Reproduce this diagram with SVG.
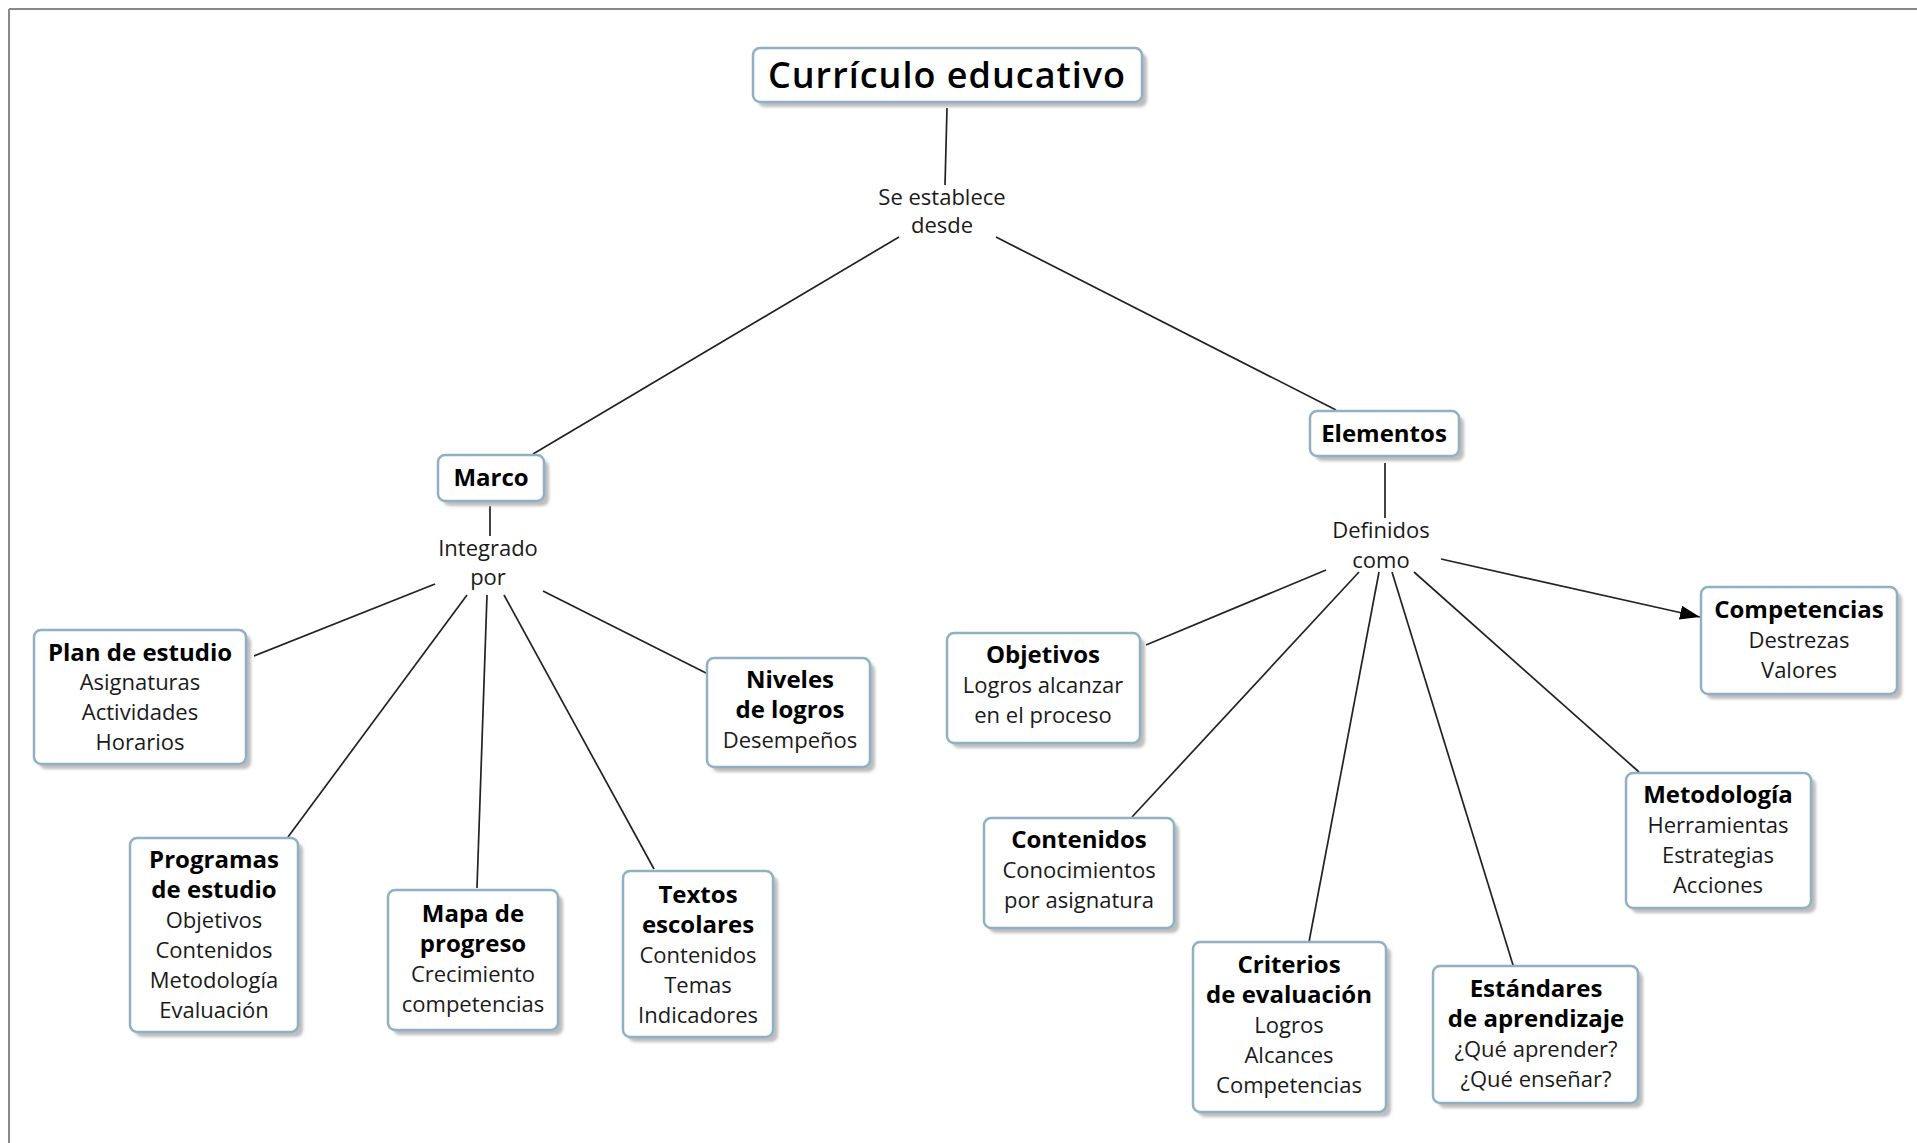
<svg xmlns="http://www.w3.org/2000/svg" width="1917" height="1143" viewBox="0 0 1917 1143">
<style>
  .box { fill: #ffffff; stroke: #8fb1c5; stroke-width: 2.5; }
  .sh { fill: #bdbdbd; filter: url(#blur); }
  .t { font-family: "Open Sans", "Liberation Sans", sans-serif; font-size: 22px; fill: #1a1a1a; text-anchor: middle; }
  .b { font-weight: 700; font-size: 24px; fill: #000; }
  .title { font-family: "Open Sans", "Liberation Sans", sans-serif; font-size: 36px; font-weight: 600; letter-spacing: 1px; fill: #000; text-anchor: middle; }
  .c line { stroke: #222; stroke-width: 1.7; fill: none; }
</style>
<defs>
  <filter id="blur" x="-10%" y="-10%" width="120%" height="120%"><feGaussianBlur stdDeviation="1.5"/></filter>
  <marker id="arr" viewBox="0 0 20 14" refX="20" refY="7" markerWidth="20" markerHeight="14" markerUnits="userSpaceOnUse" orient="auto">
    <path d="M0,0 L20,7 L0,14 Z" fill="#000"/>
  </marker>
</defs>
<rect width="1917" height="1143" fill="#ffffff"/>
<g id="frame">
  <line x1="9" y1="9" x2="1917" y2="9" stroke="#888" stroke-width="2"/>
  <line x1="9" y1="9" x2="9" y2="1143" stroke="#888" stroke-width="2"/>
</g>
<g id="connectors" class="c">
  <line x1="947" y1="108" x2="945" y2="185"/>
  <line x1="899" y1="237" x2="533" y2="454"/>
  <line x1="996" y1="237" x2="1336" y2="410"/>
  <line x1="490" y1="506" x2="490" y2="536"/>
  <line x1="435" y1="584" x2="254" y2="656"/>
  <line x1="467" y1="595" x2="288" y2="837"/>
  <line x1="487" y1="595" x2="477" y2="888"/>
  <line x1="504" y1="595" x2="654" y2="869"/>
  <line x1="543" y1="591" x2="706" y2="673"/>
  <line x1="1385" y1="463" x2="1385" y2="518"/>
  <line x1="1326" y1="570" x2="1146" y2="645"/>
  <line x1="1359" y1="572" x2="1132" y2="817"/>
  <line x1="1379" y1="572" x2="1309" y2="942"/>
  <line x1="1392" y1="572" x2="1513" y2="965"/>
  <line x1="1414" y1="572" x2="1639" y2="772"/>
  <line x1="1441" y1="559" x2="1700" y2="617" marker-end="url(#arr)"/>
</g>
<g id="link-se-establece">
  <text class="t" x="942" y="205">Se establece</text>
  <text class="t" x="942" y="233">desde</text>
</g>
<g id="link-integrado">
  <text class="t" x="488" y="556">Integrado</text>
  <text class="t" x="488" y="585">por</text>
</g>
<g id="link-definidos">
  <text class="t" x="1381" y="538">Definidos</text>
  <text class="t" x="1381" y="568">como</text>
</g>
<g id="n-curriculo">
  <rect class="sh" x="758" y="53" width="389" height="54" rx="7"/>
  <rect class="box" x="753" y="48" width="389" height="54" rx="7"/>
  <text class="title" x="947" y="88">Currículo educativo</text>
</g>
<g id="n-marco">
  <rect class="sh" x="443" y="460" width="106" height="46" rx="7"/>
  <rect class="box" x="438" y="455" width="106" height="46" rx="7"/>
  <text class="t b" x="491" y="486">Marco</text>
</g>
<g id="n-elementos">
  <rect class="sh" x="1315" y="416" width="149" height="45" rx="7"/>
  <rect class="box" x="1310" y="411" width="149" height="45" rx="7"/>
  <text class="t b" x="1384" y="442">Elementos</text>
</g>
<g id="n-plan">
  <rect class="sh" x="39" y="635" width="212" height="134" rx="7"/>
  <rect class="box" x="34" y="630" width="212" height="134" rx="7"/>
  <text class="t b" x="140" y="661">Plan de estudio</text>
  <text class="t" x="140" y="690">Asignaturas</text>
  <text class="t" x="140" y="720">Actividades</text>
  <text class="t" x="140" y="750">Horarios</text>
</g>
<g id="n-niveles">
  <rect class="sh" x="712" y="663" width="163" height="109" rx="7"/>
  <rect class="box" x="707" y="658" width="163" height="109" rx="7"/>
  <text class="t b" x="790" y="688">Niveles</text>
  <text class="t b" x="790" y="718">de logros</text>
  <text class="t" x="790" y="748">Desempeños</text>
</g>
<g id="n-programas">
  <rect class="sh" x="135" y="843" width="168" height="194" rx="7"/>
  <rect class="box" x="130" y="838" width="168" height="194" rx="7"/>
  <text class="t b" x="214" y="868">Programas</text>
  <text class="t b" x="214" y="898">de estudio</text>
  <text class="t" x="214" y="928">Objetivos</text>
  <text class="t" x="214" y="958">Contenidos</text>
  <text class="t" x="214" y="988">Metodología</text>
  <text class="t" x="214" y="1018">Evaluación</text>
</g>
<g id="n-mapa">
  <rect class="sh" x="393" y="895" width="170" height="140" rx="7"/>
  <rect class="box" x="388" y="890" width="170" height="140" rx="7"/>
  <text class="t b" x="473" y="922">Mapa de</text>
  <text class="t b" x="473" y="952">progreso</text>
  <text class="t" x="473" y="982">Crecimiento</text>
  <text class="t" x="473" y="1012">competencias</text>
</g>
<g id="n-textos">
  <rect class="sh" x="628" y="876" width="150" height="166" rx="7"/>
  <rect class="box" x="623" y="871" width="150" height="166" rx="7"/>
  <text class="t b" x="698" y="903">Textos</text>
  <text class="t b" x="698" y="933">escolares</text>
  <text class="t" x="698" y="963">Contenidos</text>
  <text class="t" x="698" y="993">Temas</text>
  <text class="t" x="698" y="1023">Indicadores</text>
</g>
<g id="n-objetivos">
  <rect class="sh" x="952" y="638" width="193" height="110" rx="7"/>
  <rect class="box" x="947" y="633" width="193" height="110" rx="7"/>
  <text class="t b" x="1043" y="663">Objetivos</text>
  <text class="t" x="1043" y="693">Logros alcanzar</text>
  <text class="t" x="1043" y="723">en el proceso</text>
</g>
<g id="n-competencias">
  <rect class="sh" x="1706" y="592" width="196" height="107" rx="7"/>
  <rect class="box" x="1701" y="587" width="196" height="107" rx="7"/>
  <text class="t b" x="1799" y="618">Competencias</text>
  <text class="t" x="1799" y="648">Destrezas</text>
  <text class="t" x="1799" y="678">Valores</text>
</g>
<g id="n-contenidos">
  <rect class="sh" x="989" y="823" width="190" height="110" rx="7"/>
  <rect class="box" x="984" y="818" width="190" height="110" rx="7"/>
  <text class="t b" x="1079" y="848">Contenidos</text>
  <text class="t" x="1079" y="878">Conocimientos</text>
  <text class="t" x="1079" y="908">por asignatura</text>
</g>
<g id="n-criterios">
  <rect class="sh" x="1198" y="947" width="193" height="170" rx="7"/>
  <rect class="box" x="1193" y="942" width="193" height="170" rx="7"/>
  <text class="t b" x="1289" y="973">Criterios</text>
  <text class="t b" x="1289" y="1003">de evaluación</text>
  <text class="t" x="1289" y="1033">Logros</text>
  <text class="t" x="1289" y="1063">Alcances</text>
  <text class="t" x="1289" y="1093">Competencias</text>
</g>
<g id="n-estandares">
  <rect class="sh" x="1438" y="971" width="205" height="137" rx="7"/>
  <rect class="box" x="1433" y="966" width="205" height="137" rx="7"/>
  <text class="t b" x="1536" y="997">Estándares</text>
  <text class="t b" x="1536" y="1027">de aprendizaje</text>
  <text class="t" x="1536" y="1057">¿Qué aprender?</text>
  <text class="t" x="1536" y="1087">¿Qué enseñar?</text>
</g>
<g id="n-metodologia">
  <rect class="sh" x="1631" y="778" width="185" height="135" rx="7"/>
  <rect class="box" x="1626" y="773" width="185" height="135" rx="7"/>
  <text class="t b" x="1718" y="803">Metodología</text>
  <text class="t" x="1718" y="833">Herramientas</text>
  <text class="t" x="1718" y="863">Estrategias</text>
  <text class="t" x="1718" y="893">Acciones</text>
</g>
</svg>
